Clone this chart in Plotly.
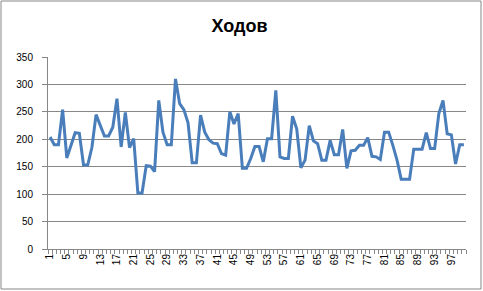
import plotly.graph_objects as go

title_text = "Ходов"
x_index = list(range(1, 101))
moves = [204, 190, 190, 254, 166, 190, 212, 211, 153, 153,
         185, 245, 224, 206, 206, 222, 274, 186, 249, 185,
         201, 102, 102, 152, 151, 141, 271, 213, 190, 190,
         310, 265, 254, 230, 157, 157, 244, 213, 199, 193,
         192, 174, 171, 250, 228, 247, 147, 147, 165, 187,
         187, 159, 201, 201, 289, 168, 165, 165, 242, 219,
         148, 162, 225, 197, 192, 162, 162, 198, 172, 172,
         218, 147, 179, 180, 189, 189, 203, 169, 168, 163,
         213, 213, 189, 162, 127, 127, 127, 182, 182, 182,
         212, 183, 183, 247, 271, 210, 208, 155, 190, 190]
y_ticks = [0, 50, 100, 150, 200, 250, 300, 350]
x_tick_labels = list(range(1, 100, 4))

W, H = 483, 291
ml, mr, mt, mb = 48, 17, 57, 42
pw, ph = W - ml - mr, H - mt - mb

fig = go.Figure()
fig.add_trace(go.Scatter(
    x=x_index, y=moves, mode="lines",
    line=dict(color="#4A7EBB", width=3),
    hoverinfo="skip", showlegend=False,
))

grid = "#878787"
fig.update_layout(
    width=W, height=H,
    margin=dict(l=ml, r=mr, t=mt, b=mb),
    paper_bgcolor="white", plot_bgcolor="white",
    font=dict(family="Liberation Sans, Arial, sans-serif", size=10, color="black"),
    title=dict(text="<b>" + title_text + "</b>", x=239.5 / W, xref="container",
               xanchor="center", y=1 - 26 / H, yanchor="middle",
               font=dict(size=18, color="black")),
    xaxis=dict(
        range=[0.5, len(x_index) + 0.5], tickmode="array",
        tickvals=x_tick_labels, ticktext=[str(v) for v in x_tick_labels],
        tickangle=-90, ticks="", showgrid=False, zeroline=False,
        showline=True, linecolor=grid, linewidth=1,
        minor=dict(ticks="outside", tick0=0.5, dtick=1, ticklen=4,
                   tickcolor=grid, showgrid=False),
        fixedrange=True,
    ),
    yaxis=dict(
        range=[0, 350], tickmode="array", tickvals=y_ticks,
        ticks="outside", ticklen=5, tickcolor=grid,
        showgrid=True, gridcolor=grid, gridwidth=1, zeroline=False,
        showline=True, linecolor=grid, linewidth=1,
        ticklabelstandoff=7, fixedrange=True,
    ),
    shapes=[dict(
        type="rect", xref="paper", yref="paper",
        x0=(1 - ml) / pw, x1=(W - 2 - ml) / pw,
        y0=-(mb - 2) / ph, y1=1 + (mt - 1) / ph,
        line=dict(color="#878787", width=1), fillcolor="rgba(0,0,0,0)",
        layer="below",
    )],
)

fig.write_html("out.html", config={"displayModeBar": False})
